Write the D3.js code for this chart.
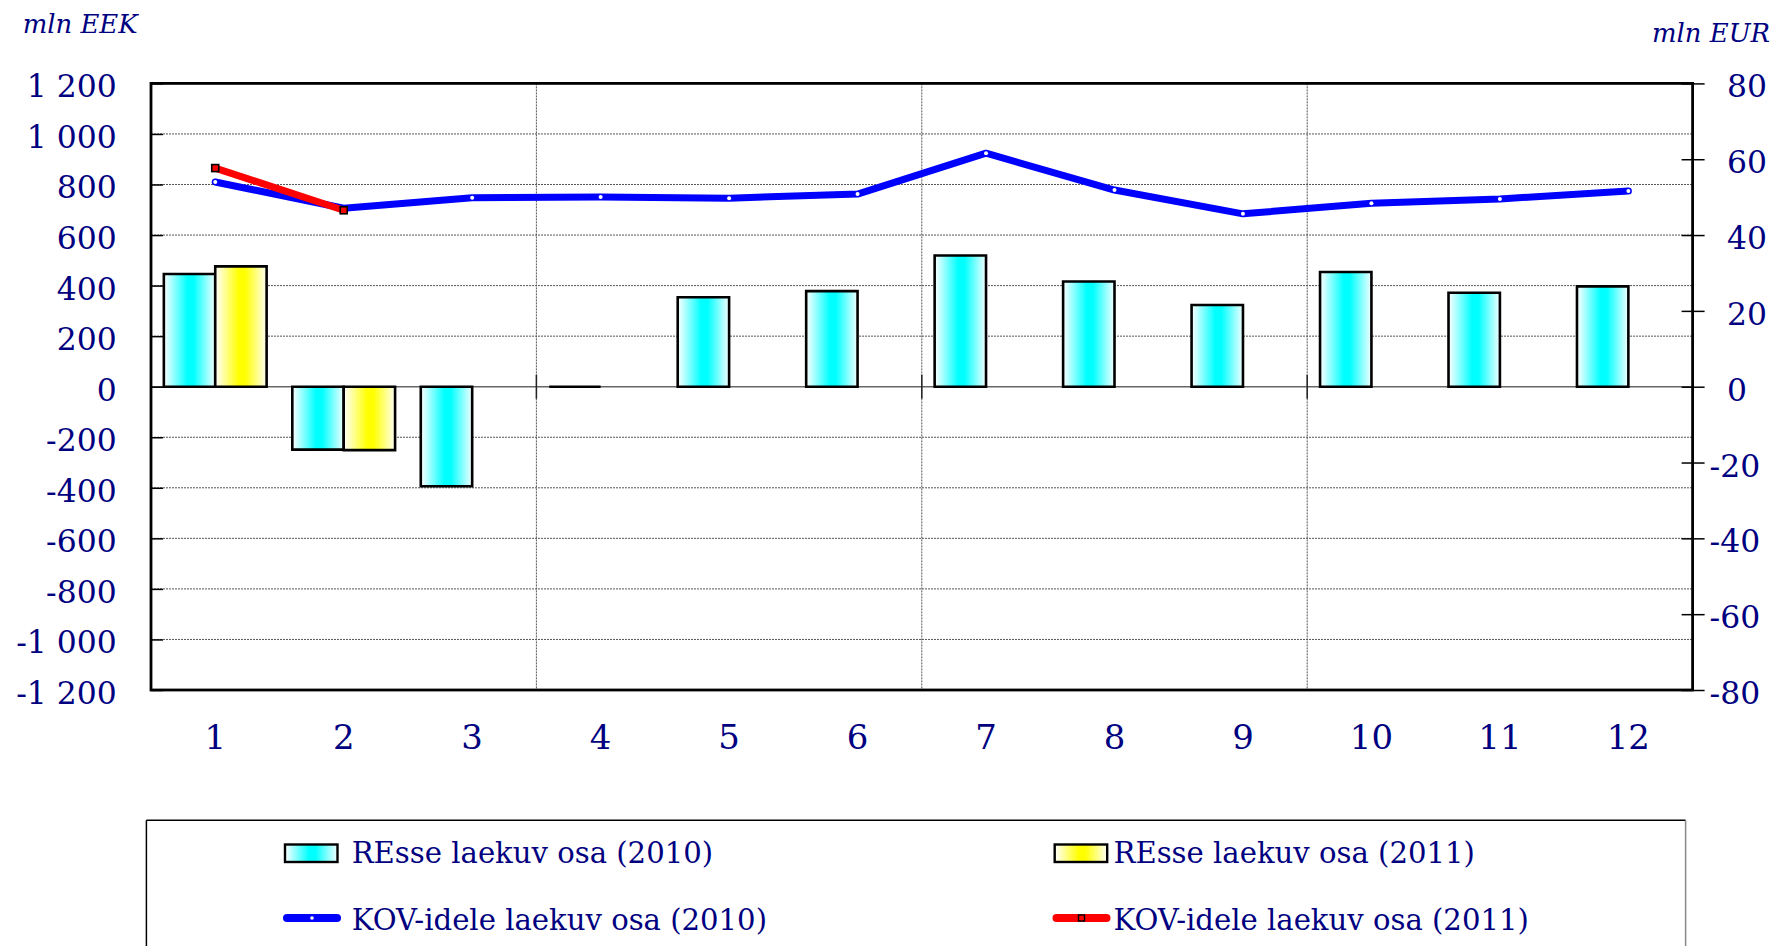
<!DOCTYPE html>
<html>
<head>
<meta charset="utf-8">
<script src="https://cdn.jsdelivr.net/npm/d3@7"></script>
<style>
  html, body { margin: 0; padding: 0; background: #fff; }
  svg { display: block; }
</style>
</head>
<body>
<svg id="chart" width="1792" height="946"></svg>
<script>
// ---------------- data ----------------
const months = [1, 2, 3, 4, 5, 6, 7, 8, 9, 10, 11, 12];
const resse2010 = [446, -249, -394, 0, 354, 378, 519, 416, 323, 454, 372, 397];
const resse2011 = [476, -251, null, null, null, null, null, null, null, null, null, null];
const kov2010 = [810, 706, 748, 751, 746, 762, 924, 778, 684, 726, 743, 774];
const kov2011 = [865, 698, null, null, null, null, null, null, null, null, null, null];
const leftTicks = [-1200, -1000, -800, -600, -400, -200, 0, 200, 400, 600, 800, 1000, 1200];
const rightTicks = [-80, -60, -40, -20, 0, 20, 40, 60, 80];
const seriesNames = ["REsse laekuv osa (2010)", "REsse laekuv osa (2011)",
                     "KOV-idele laekuv osa (2010)", "KOV-idele laekuv osa (2011)"];
const leftUnit = "mln EEK";
const rightUnit = "mln EUR";

// ---------------- setup ----------------
const svg = d3.select("#chart");
const FONT = "DejaVu Serif";
const NAVY = "#000080";
const plot = { left: 151, right: 1692.6, top: 83.4, bottom: 690 };

const locale = d3.formatLocale({ decimal: ",", thousands: " ", grouping: [3], currency: ["", ""], minus: "-" });
const fmt = locale.format(",d");

function fitSize(str, target, style) {
  const t = svg.append("text").attr("font-family", FONT).attr("font-style", style || "normal")
    .attr("font-size", 100).text(str);
  const w = t.node().getComputedTextLength();
  t.remove();
  return 100 * target / w;
}
const axisFS = fitSize("1 200", 90);
const xFS = axisFS * 1.08;
const legendFS = fitSize(seriesNames[0], 361.6);
const titleFS = fitSize(leftUnit, 115, "italic");

const x = d3.scaleBand().domain(months).range([plot.left, plot.right]).paddingInner(0).paddingOuter(0);
const bw = x.bandwidth();
const sub = d3.scaleBand().domain([0, 1]).range([0.1 * bw, 0.9 * bw]);
const yL = d3.scaleLinear().domain([-1200, 1200]).range([plot.bottom, plot.top]);
const yR = d3.scaleLinear().domain([-80, 80]).range([plot.bottom, plot.top]);

// gradients
const defs = svg.append("defs");
function grad(id, col, edge) {
  const g = defs.append("linearGradient").attr("id", id).attr("x1", 0).attr("x2", 1).attr("y1", 0).attr("y2", 0);
  g.append("stop").attr("offset", "0%").attr("stop-color", "#ffffff");
  g.append("stop").attr("offset", "46%").attr("stop-color", col);
  g.append("stop").attr("offset", "58%").attr("stop-color", col);
  g.append("stop").attr("offset", "100%").attr("stop-color", edge);
}
grad("gCyan", "#00ffff", "#f2ffff");
grad("gYellow", "#ffff00", "#fffff2");

// ---------------- gridlines ----------------
const grid = svg.append("g");
grid.selectAll("line.h").data(leftTicks.filter(v => v !== 0 && Math.abs(v) !== 1200)).join("line")
  .attr("x1", plot.left).attr("x2", plot.right)
  .attr("y1", d => yL(d)).attr("y2", d => yL(d))
  .attr("stroke", "#555").attr("stroke-width", 1).attr("stroke-dasharray", "2,1");
const vBound = [3, 6, 9];
grid.selectAll("line.v").data(vBound).join("line")
  .attr("x1", d => x(months[d])).attr("x2", d => x(months[d]))
  .attr("y1", plot.top).attr("y2", plot.bottom)
  .attr("stroke", "#555").attr("stroke-width", 1).attr("stroke-dasharray", "2,1");
// zero line
svg.append("line").attr("x1", plot.left).attr("x2", plot.right)
  .attr("y1", yL(0)).attr("y2", yL(0)).attr("stroke", "#666").attr("stroke-width", 1.6);
// category tick marks on zero line
svg.append("g").selectAll("line").data(vBound).join("line")
  .attr("x1", d => x(months[d])).attr("x2", d => x(months[d]))
  .attr("y1", yL(0) - 12).attr("y2", yL(0) + 12)
  .attr("stroke", "#222").attr("stroke-width", 1.5);

// ---------------- bars ----------------
function barPath(x0, w, v) {
  const y0 = yL(0), y1 = yL(v);
  return `M${x0},${y0}V${y1}H${x0 + w}V${y0}Z`;
}
const barData = [];
months.forEach((m, i) => {
  if (resse2010[i] != null) barData.push({ m, s: 0, v: resse2010[i] });
  if (resse2011[i] != null) barData.push({ m, s: 1, v: resse2011[i] });
});
svg.append("g").selectAll("path").data(barData).join("path")
  .attr("d", d => barPath(x(d.m) + sub(d.s), sub.bandwidth(), d.v))
  .attr("fill", d => d.s === 0 ? "url(#gCyan)" : "url(#gYellow)")
  .attr("stroke", "#000").attr("stroke-width", 2.6).attr("stroke-linejoin", "miter");

// ---------------- plot border ----------------
svg.append("rect").attr("x", plot.left).attr("y", plot.top)
  .attr("width", plot.right - plot.left).attr("height", plot.bottom - plot.top)
  .attr("fill", "none").attr("stroke", "#000").attr("stroke-width", 2.8);

// ---------------- left axis ----------------
const axL = svg.append("g").attr("transform", `translate(${plot.left},0)`)
  .call(d3.axisLeft(yL).tickValues(leftTicks).tickSize(-12).tickPadding(34.3).tickFormat(fmt));
axL.select(".domain").remove();
axL.selectAll(".tick line").attr("stroke", "#000").attr("stroke-width", 1.5);
axL.selectAll(".tick text").attr("font-family", FONT).attr("font-size", axisFS).attr("fill", NAVY)
  .attr("dy", null).attr("y", 2 + axisFS * 0.365);

// ---------------- right axis ----------------
const axR = svg.append("g").attr("transform", `translate(${plot.right},0)`)
  .call(d3.axisRight(yR).tickValues(rightTicks).tickSize(12).tickFormat(fmt));
axR.select(".domain").remove();
axR.selectAll(".tick line").attr("x1", -11).attr("x2", 12).attr("stroke", "#000").attr("stroke-width", 1.5);
axR.selectAll(".tick text").attr("font-family", FONT).attr("font-size", axisFS).attr("fill", NAVY)
  .attr("text-anchor", "start").attr("dy", null)
  .attr("x", d => d < 0 ? 17 : 34.4).attr("y", 2 + axisFS * 0.365);

// ---------------- x labels ----------------
svg.append("g").selectAll("text").data(months).join("text")
  .attr("x", d => x(d) + bw / 2).attr("y", 737 + xFS * 0.365)
  .attr("text-anchor", "middle").attr("font-family", FONT).attr("font-size", xFS).attr("fill", NAVY)
  .text(d => d);

// ---------------- lines ----------------
const lineGen = d3.line().defined(d => d.v != null).x(d => x(d.m) + bw / 2).y(d => yL(d.v));
const blue = months.map((m, i) => ({ m, v: kov2010[i] }));
const red = months.map((m, i) => ({ m, v: kov2011[i] }));
svg.append("path").datum(blue).attr("d", lineGen).attr("fill", "none")
  .attr("stroke", "#0000ff").attr("stroke-width", 7).attr("stroke-linejoin", "round").attr("stroke-linecap", "round");
svg.append("g").selectAll("circle").data(blue.filter(d => d.v != null)).join("circle")
  .attr("cx", d => x(d.m) + bw / 2).attr("cy", d => yL(d.v)).attr("r", 2).attr("fill", "#fff");
svg.append("path").datum(red).attr("d", lineGen).attr("fill", "none")
  .attr("stroke", "#ff0000").attr("stroke-width", 7).attr("stroke-linejoin", "round").attr("stroke-linecap", "butt");
svg.append("g").selectAll("rect").data(red.filter(d => d.v != null)).join("rect")
  .attr("x", d => x(d.m) + bw / 2 - 3.5).attr("y", d => yL(d.v) - 3.5).attr("width", 7).attr("height", 7)
  .attr("fill", "#ff0000").attr("stroke", "#000").attr("stroke-width", 1.6);

// ---------------- unit titles ----------------
svg.append("text").attr("x", 22.7).attr("y", 33.3).attr("font-family", FONT).attr("font-style", "italic")
  .attr("font-size", titleFS).attr("fill", NAVY).text(leftUnit);
svg.append("text").attr("x", 1770).attr("y", 41.7).attr("text-anchor", "end").attr("font-family", FONT)
  .attr("font-style", "italic").attr("font-size", titleFS).attr("fill", NAVY).text(rightUnit);

// ---------------- legend ----------------
const lg = svg.append("g");
const lgBox = { x: 146.4, y: 820.3, r: 1685.6 };
lg.append("line").attr("x1", lgBox.x).attr("x2", lgBox.r).attr("y1", lgBox.y).attr("y2", lgBox.y).attr("stroke", "#000").attr("stroke-width", 1.5);
lg.append("line").attr("x1", lgBox.x).attr("x2", lgBox.x).attr("y1", lgBox.y).attr("y2", 960).attr("stroke", "#000").attr("stroke-width", 1.5);
lg.append("line").attr("x1", lgBox.r).attr("x2", lgBox.r).attr("y1", lgBox.y).attr("y2", 960).attr("stroke", "#888").attr("stroke-width", 1.5);

const cols = [285, 1054.7];
const textX = [351.7, 1113.5];
const rowBase = [863.3, 930];
// bar swatches
[0, 1].forEach(c => {
  lg.append("rect").attr("x", cols[c]).attr("y", 844.5).attr("width", 52.5).attr("height", 17.5)
    .attr("fill", c === 0 ? "url(#gCyan)" : "url(#gYellow)").attr("stroke", "#000").attr("stroke-width", 2.4);
  lg.append("text").attr("x", textX[c]).attr("y", rowBase[0]).attr("font-family", FONT)
    .attr("font-size", legendFS).attr("fill", NAVY).text(seriesNames[c]);
});
// line swatches
lg.append("line").attr("x1", 287).attr("x2", 337).attr("y1", 918).attr("y2", 918)
  .attr("stroke", "#0000ff").attr("stroke-width", 8).attr("stroke-linecap", "round");
lg.append("circle").attr("cx", 312).attr("cy", 918).attr("r", 1.8).attr("fill", "#fff");
lg.append("line").attr("x1", 1056.5).attr("x2", 1106.5).attr("y1", 918).attr("y2", 918)
  .attr("stroke", "#ff0000").attr("stroke-width", 8).attr("stroke-linecap", "round");
lg.append("rect").attr("x", 1081.5 - 3).attr("y", 918 - 3).attr("width", 6).attr("height", 6)
  .attr("fill", "#ff0000").attr("stroke", "#000").attr("stroke-width", 1.4);
[2, 3].forEach((k, c) => {
  lg.append("text").attr("x", textX[c]).attr("y", rowBase[1]).attr("font-family", FONT)
    .attr("font-size", legendFS).attr("fill", NAVY).text(seriesNames[k]);
});
</script>
</body>
</html>
